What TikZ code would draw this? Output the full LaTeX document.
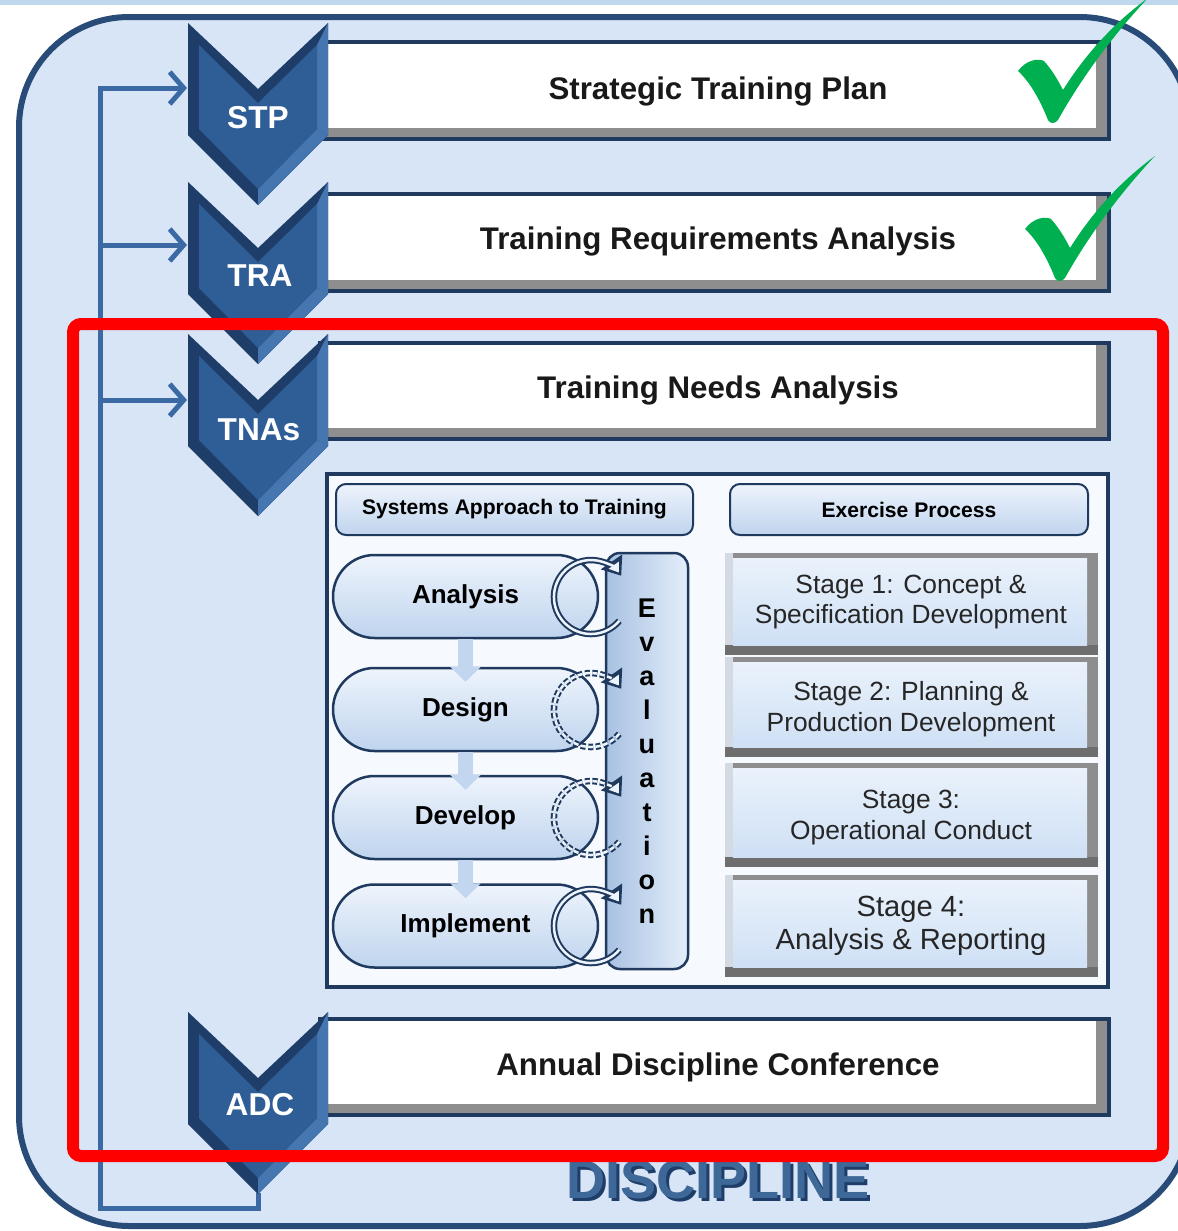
\documentclass[tikz,border=0pt]{standalone}
\usepackage{fontspec}
\setmainfont{Liberation Sans}
\usetikzlibrary{arrows.meta}

\definecolor{topband}{HTML}{C0D8EE}
\definecolor{framefill}{HTML}{D7E5F7}
\definecolor{frameline}{HTML}{284B77}
\definecolor{loopblue}{HTML}{3A69A3}
\definecolor{chevdark}{HTML}{1E3D68}
\definecolor{chevface}{HTML}{2F5E97}
\definecolor{chevlight}{HTML}{4676AF}
\definecolor{barline}{HTML}{1F3A5E}
\definecolor{bevelgray}{HTML}{8E8E8E}
\definecolor{beveldark}{HTML}{6E6E6E}
\definecolor{bevellight}{HTML}{D3DAE4}
\definecolor{panelfill}{HTML}{F6F9FD}
\definecolor{paletop}{HTML}{EEF4FC}
\definecolor{palebottom}{HTML}{BFD4EE}
\definecolor{stagetop}{HTML}{EAF2FB}
\definecolor{stagebottom}{HTML}{CFE0F5}
\definecolor{arrowblue}{HTML}{C2D6EF}
\definecolor{evalleft}{HTML}{A8C1E2}
\definecolor{evalright}{HTML}{E4EEFA}
\definecolor{disciplineblue}{HTML}{3E6898}
\definecolor{checkgreen}{HTML}{00B050}

\begin{document}
\begin{tikzpicture}[x=0.1mm, y=-0.1mm,
  bartext/.style={font=\fontsize{8.9}{10}\selectfont\bfseries, text=black!90},
  chevtext/.style={font=\fontsize{9}{10}\selectfont\bfseries, text=white},
  headbox/.style={draw=barline, line width=0.2mm, rounded corners=1mm, top color=paletop, bottom color=palebottom, minimum height=5.1mm, font=\fontsize{6}{7}\selectfont\bfseries},
  pill/.style={draw=barline, line width=0.25mm, rounded corners=4.15mm, minimum width=26.5mm, minimum height=8.3mm, top color=paletop, bottom color=palebottom, font=\fontsize{7.4}{8}\selectfont\bfseries},
  satflow/.style={line width=1.5mm, draw=arrowblue, -{Triangle[length=1.5mm, width=3mm]}, shorten >=-1.5mm},
  ringouter/.style={line width=0.65mm, draw=barline, -{Triangle[length=1.7mm, width=2.5mm]}},
  ringinner/.style={line width=0.25mm, draw=paletop, -{Triangle[length=0.9mm, width=1.2mm]}, shorten >=0.4mm},
  evalbar/.style={draw=barline, line width=0.25mm, rounded corners=1.4mm, minimum width=8.2mm, minimum height=41.6mm, left color=evalleft, right color=evalright, align=center, inner sep=0pt, font=\fontsize{7.7}{9.67}\selectfont\bfseries},
  stagetext/.style={align=center, font=\fontsize{7.5}{8.8}\selectfont, text=black!85},
  feedback/.style={line width=0.5mm, draw=loopblue},
  feedin/.style={feedback, -{Straight Barb[length=1.4mm, width=3.2mm]}},
  redbox/.style={draw=red, line width=1.2mm, rounded corners=0.8mm}
]
% Page is the size of the screenshot (1 unit = 1 pixel)
\useasboundingbox (0,0) rectangle (1178,1231);
\clip (0,0) rectangle (1178,1231);
\fill[white] (0,0) rectangle (1178,1231);
\fill[topband] (0,0) rectangle (1178,5);

% Outer frame
\draw[frameline, line width=0.6mm, fill=framefill, rounded corners=11mm] (19,17) rectangle (1190,1226);

% Chevron shape, #1 = top left corner
\def\chevron#1{%
  \begin{scope}[shift={#1}]%
  \fill[chevdark] (0,0) -- (70,66) -- (140,0) -- (140,112) -- (70,182) -- (0,112) -- cycle;%
  \fill[chevlight] (140,112) -- (70,182) -- (70,166) -- (129,106) -- cycle;%
  \fill[chevlight] (140,0) -- (140,112) -- (129,106) -- (129,22) -- cycle;%
  \fill[chevface] (11,22) -- (70,80) -- (129,22) -- (129,106) -- (70,166) -- (11,106) -- cycle;%
  \end{scope}}

% Check mark, #1 = bottom point
\def\greencheck#1{%
  \fill[checkgreen, shift={#1}] (0,0) .. controls (-8,-20) and (-18,-38) .. (-30,-49)
    .. controls (-22,-60) and (-10,-62) .. (-4,-59) .. controls (4,-50) and (10,-40) .. (15,-30)
    .. controls (40,-70) and (70,-100) .. (100,-122) .. controls (68,-88) and (35,-45) .. (10,0)
    .. controls (7,4) and (2,4) .. (0,0) -- cycle;}

% Feedback loop
\coordinate (stp-in) at (187,88);
\coordinate (tra-in) at (187,245);
\coordinate (tnas-in) at (187,400);
\coordinate (tra-out) at (100,245);
\coordinate (tnas-out) at (100,400);
\coordinate (loop-bottom) at (100,1208);
\coordinate (adc-tip) at (258,1193);
\draw[feedin] (adc-tip) |- (loop-bottom) |- (stp-in);
\draw[feedin] (tra-out) -- (tra-in);
\draw[feedin] (tnas-out) -- (tnas-in);

% Bars
\fill[barline] (318,40) rectangle (1111,141);
\fill[bevelgray] (322,44) rectangle (1107,137);
\fill[white] (322,44) rectangle (1096,128);
\node[bartext] (stpbar) at (718,91) {Strategic Training Plan};
\fill[barline] (318,192) rectangle (1111,293);
\fill[bevelgray] (322,196) rectangle (1107,289);
\fill[white] (322,196) rectangle (1096,280);
\node[bartext] (trabar) at (718,241) {Training Requirements Analysis};
\fill[barline] (318,341) rectangle (1111,441);
\fill[bevelgray] (322,345) rectangle (1107,437);
\fill[white] (322,345) rectangle (1096,428);
\node[bartext] (tnasbar) at (718,390) {Training Needs Analysis};
\fill[barline] (318,1017) rectangle (1111,1117);
\fill[bevelgray] (322,1021) rectangle (1107,1113);
\fill[white] (322,1021) rectangle (1096,1104);
\node[bartext] (adcbar) at (718,1067) {Annual Discipline Conference};

% Chevrons
\chevron{(188,23)}
\node[chevtext] (stp) at (258,118) {STP};
\chevron{(188,182)}
\node[chevtext] (tra) at (260,276) {TRA};
\chevron{(188,334)}
\node[chevtext] (tnas) at (259,430) {TNAs};
\chevron{(188,1012)}
\node[chevtext] (adc) at (260,1105) {ADC};

% Inner panel
\draw[barline, line width=0.4mm, fill=panelfill] (327,474) rectangle (1108,987);
\node[headbox, minimum width=35.7mm] (sathead) at (514.5,509.5) {Systems Approach to Training};
\node[headbox, minimum width=35.8mm] (exhead) at (909,509.5) {Exercise Process};

% SAT stages
\node[pill] (analysis) at (465.5,596.5) {Analysis};
\node[pill] (design) at (465.5,709.5) {Design};
\node[pill] (develop) at (465.5,817.5) {Develop};
\node[pill] (implement) at (465.5,926) {Implement};
\draw[satflow] (analysis.south) -- (design.north);
\draw[satflow] (design.south) -- (develop.north);
\draw[satflow] (develop.south) -- (implement.north);

% Evaluation bar
\node[evalbar] (evaluation) at (647,761) {E\\v\\a\\l\\u\\a\\t\\i\\o\\n};

% Loop arrows on the stages
\draw[ringouter] (619.3,620.8) arc[start angle=40, end angle=325, radius=37];
\draw[ringinner] (619.3,620.8) arc[start angle=40, end angle=325, radius=37];
\draw[ringouter, dash pattern=on 0.5mm off 0.25mm] (619.3,733.8) arc[start angle=40, end angle=325, radius=37];
\draw[ringinner, dash pattern=on 0.5mm off 0.25mm] (619.3,733.8) arc[start angle=40, end angle=325, radius=37];
\draw[ringouter, dash pattern=on 0.5mm off 0.25mm] (619.3,841.8) arc[start angle=40, end angle=325, radius=37];
\draw[ringinner, dash pattern=on 0.5mm off 0.25mm] (619.3,841.8) arc[start angle=40, end angle=325, radius=37];
\draw[ringouter] (619.3,949.8) arc[start angle=40, end angle=325, radius=37];
\draw[ringinner] (619.3,949.8) arc[start angle=40, end angle=325, radius=37];

% Exercise stages
\fill[bevelgray] (725,553) rectangle (1098,655);
\fill[bevellight] (725,553) rectangle (733,645);
\fill[beveldark] (725,645) rectangle (1098,655);
\shade[top color=stagetop, bottom color=stagebottom] (733,558) rectangle (1087,645);
\node[stagetext] (stage1) at (911,602) {Stage 1: Concept \&\\Specification Development};
\fill[bevelgray] (725,657) rectangle (1098,757);
\fill[bevellight] (725,657) rectangle (733,747);
\fill[beveldark] (725,747) rectangle (1098,757);
\shade[top color=stagetop, bottom color=stagebottom] (733,662) rectangle (1087,747);
\node[stagetext] (stage2) at (911,709.5) {Stage 2: Planning \&\\Production Development};
\fill[bevelgray] (725,763) rectangle (1098,867);
\fill[bevellight] (725,763) rectangle (733,857);
\fill[beveldark] (725,857) rectangle (1098,867);
\shade[top color=stagetop, bottom color=stagebottom] (733,768) rectangle (1087,857);
\node[stagetext] (stage3) at (911,817.5) {Stage 3:\\Operational Conduct};
\fill[bevelgray] (725,875) rectangle (1098,977);
\fill[bevellight] (725,875) rectangle (733,967);
\fill[beveldark] (725,967) rectangle (1098,977);
\shade[top color=stagetop, bottom color=stagebottom] (733,880) rectangle (1087,967);
\node[stagetext, font=\fontsize{8.3}{9.4}\selectfont] (stage4) at (911,925.5) {Stage 4:\\Analysis \& Reporting};

% Frame title
\node[font=\fontsize{15.4}{16}\selectfont\bfseries, text=chevdark] (discipline-shadow) at (721,1183) {DISCIPLINE};
\node[font=\fontsize{15.4}{16}\selectfont\bfseries, text=disciplineblue] (discipline) at (718,1180) {DISCIPLINE};

% Highlight box
\draw[redbox] (73,324) rectangle (1163,1156);

% Check marks
\greencheck{(1048,120)}
\greencheck{(1055,278)}
\end{tikzpicture}
\end{document}
